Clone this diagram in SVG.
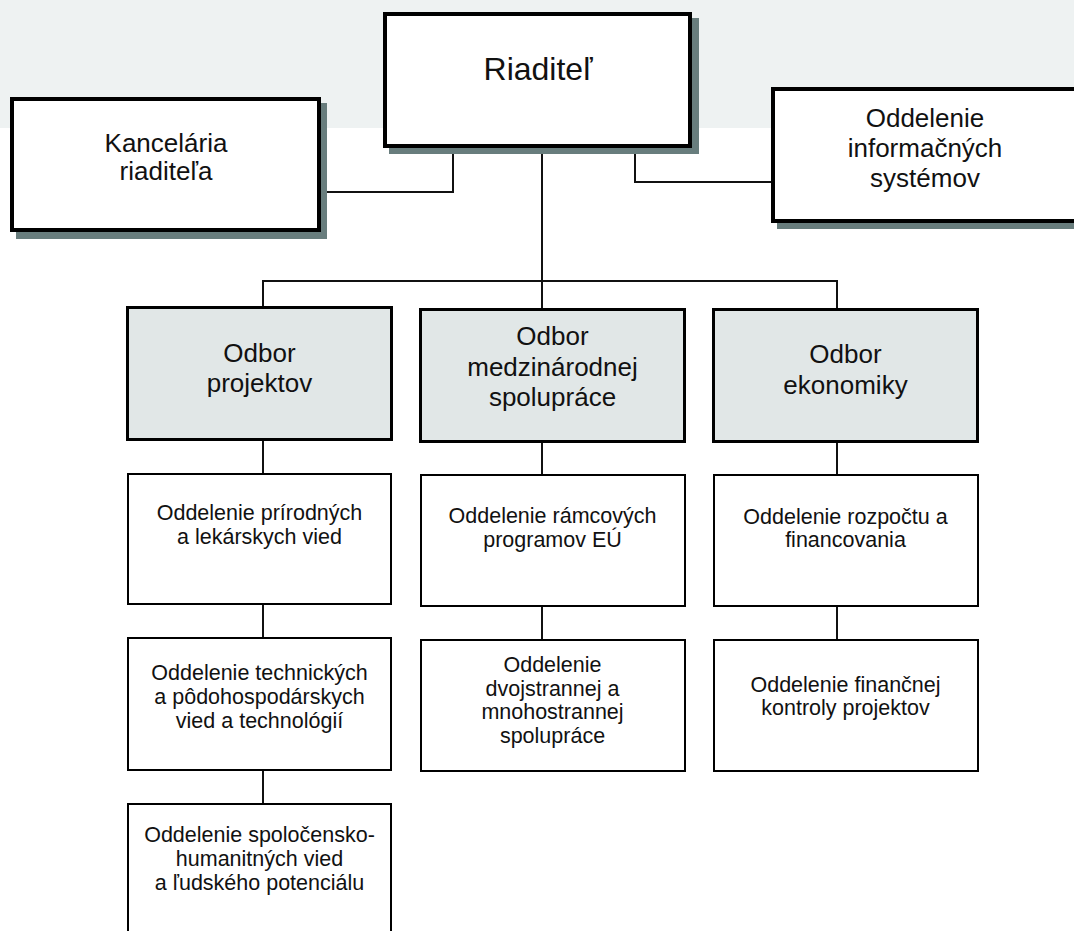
<svg xmlns="http://www.w3.org/2000/svg" width="1074" height="931" viewBox="0 0 1074 931">
<style>
.shadow{fill:#687d7d;}
.top{fill:#ffffff;stroke:#000;stroke-width:4;}
.dept{fill:#e1e7e7;stroke:#000;stroke-width:3;}
.unit{fill:#ffffff;stroke:#000;stroke-width:2;}
.conn{fill:none;stroke:#111;stroke-width:2;}
text{font-family:"Liberation Sans",Arial,sans-serif;fill:#111;text-anchor:middle;}
.t32{font-size:32px;}
.t26{font-size:26px;}
.t20{font-size:21.5px;}
</style>
<rect x="0" y="0" width="1074" height="128" fill="#eef2f2"/>
<g id="connectors">
<path class="conn" d="M321 192 H453 V150"/>
<path class="conn" d="M542 150 V281"/>
<path class="conn" d="M635 150 V182 H771"/>
<path class="conn" d="M263 307 V281 H837 V308"/>
<path class="conn" d="M542 281 V308"/>
<path class="conn" d="M263 440 V474"/>
<path class="conn" d="M263 604 V637"/>
<path class="conn" d="M263 770 V803"/>
<path class="conn" d="M542 442 V474"/>
<path class="conn" d="M542 606 V639"/>
<path class="conn" d="M837 442 V474"/>
<path class="conn" d="M837 606 V639"/>
</g>
<g id="riaditel">
<rect class="shadow" x="389" y="18" width="310" height="136"/>
<rect class="top" x="385" y="14" width="305" height="132"/>
<text class="t32" x="538" y="80">Riaditeľ</text>
</g>
<g id="kancelaria">
<rect class="shadow" x="16" y="103" width="311" height="136"/>
<rect class="top" x="12" y="99" width="307" height="131"/>
<text class="t26" x="166" y="152">Kancelária</text>
<text class="t26" x="166" y="180">riaditeľa</text>
</g>
<g id="informacne">
<rect class="shadow" x="777" y="93" width="320" height="136"/>
<rect class="top" x="773" y="89" width="320" height="132"/>
<text class="t26" x="925" y="127">Oddelenie</text>
<text class="t26" x="925" y="157">informačných</text>
<text class="t26" x="925" y="187">systémov</text>
</g>
<g id="odbor-projektov">
<rect class="dept" x="127.5" y="307.5" width="264" height="132"/>
<text class="t26" x="259.5" y="362">Odbor</text>
<text class="t26" x="259.5" y="392">projektov</text>
</g>
<g id="odbor-medzinarodnej">
<rect class="dept" x="420.5" y="309.5" width="264" height="132"/>
<text class="t26" x="552.5" y="345">Odbor</text>
<text class="t26" x="552.5" y="376">medzinárodnej</text>
<text class="t26" x="552.5" y="406">spolupráce</text>
</g>
<g id="odbor-ekonomiky">
<rect class="dept" x="713.5" y="309.5" width="264" height="132"/>
<text class="t26" x="845.5" y="363">Odbor</text>
<text class="t26" x="845.5" y="394">ekonomiky</text>
</g>
<g id="odd-prirodnych">
<rect class="unit" x="128" y="474" width="263" height="130"/>
<text class="t20" x="259.5" y="520">Oddelenie prírodných</text>
<text class="t20" x="259.5" y="544">a lekárskych vied</text>
</g>
<g id="odd-technickych">
<rect class="unit" x="128" y="638" width="263" height="132"/>
<text class="t20" x="259.5" y="680">Oddelenie technických</text>
<text class="t20" x="259.5" y="704">a pôdohospodárskych</text>
<text class="t20" x="259.5" y="728">vied a technológií</text>
</g>
<g id="odd-spolocensko">
<rect class="unit" x="128" y="804" width="263" height="140"/>
<text class="t20" x="259.5" y="842">Oddelenie spoločensko-</text>
<text class="t20" x="259.5" y="866">humanitných vied</text>
<text class="t20" x="259.5" y="890">a ľudského potenciálu</text>
</g>
<g id="odd-ramcovych">
<rect class="unit" x="421" y="475" width="264" height="131"/>
<text class="t20" x="552.5" y="523">Oddelenie rámcových</text>
<text class="t20" x="552.5" y="547">programov EÚ</text>
</g>
<g id="odd-dvojstrannej">
<rect class="unit" x="421" y="640" width="264" height="131"/>
<text class="t20" x="552.5" y="672">Oddelenie</text>
<text class="t20" x="552.5" y="695.5">dvojstrannej a</text>
<text class="t20" x="552.5" y="719">mnohostrannej</text>
<text class="t20" x="552.5" y="742.5">spolupráce</text>
</g>
<g id="odd-rozpoctu">
<rect class="unit" x="714" y="475" width="264" height="131"/>
<text class="t20" x="845.5" y="524">Oddelenie rozpočtu a</text>
<text class="t20" x="845.5" y="547">financovania</text>
</g>
<g id="odd-financnej">
<rect class="unit" x="714" y="640" width="264" height="131"/>
<text class="t20" x="845.5" y="692">Oddelenie finančnej</text>
<text class="t20" x="845.5" y="715">kontroly projektov</text>
</g>
</svg>
